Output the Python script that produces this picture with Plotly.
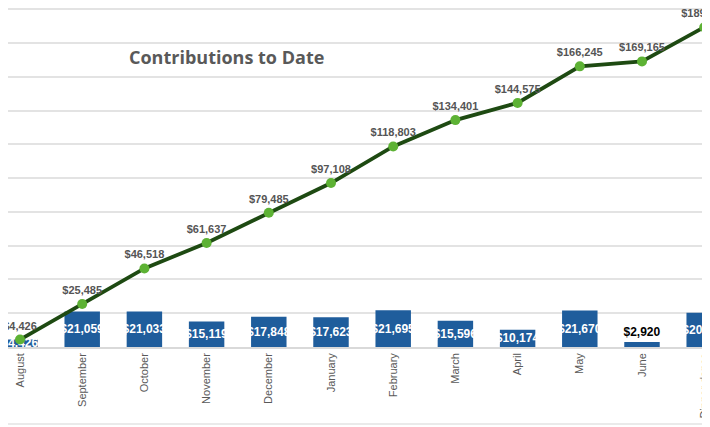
import plotly.graph_objects as go

months = ["August", "September", "October", "November", "December", "January",
          "February", "March", "April", "May", "June", "Dinner dance"]
monthly = [4426, 21059, 21033, 15119, 17848, 17623, 21695, 15596, 10174, 21670, 2920, 20270]
cumulative = [4426, 25485, 46518, 61637, 79485, 97108, 118803, 134401, 144575, 166245, 169165, 189435]

def money(v):
    return "${:,}".format(v)

bar_pos = ["outside" if m == "June" else "inside" for m in months]
bar_font_col = ["#000000" if p == "outside" else "#ffffff" for p in bar_pos]

# The page body has an 8px margin, so the figure sits at (8, 8); it is made a bit
# wider than the window so the right-most marks are cropped by the window only.
W, H = 730, 419
PLOT_H = 339
PX_PER_CAT = 62.2
X0 = -12 / PX_PER_CAT

fig = go.Figure()
fig.add_trace(go.Bar(
    x=months, y=monthly, width=0.57,
    marker=dict(color="#1F5D9C", line=dict(width=0)),
    text=[money(v) for v in monthly],
    texttemplate="<b>%{text}</b>",
    textposition=bar_pos,
    textangle=0,
    insidetextanchor="middle",
    constraintext="none",
    textfont=dict(family="Liberation Sans, Arial", size=12, color=bar_font_col),
    cliponaxis=False,
))
fig.add_trace(go.Scatter(
    x=months, y=cumulative, mode="lines+markers+text",
    line=dict(color="#1E4A12", width=3.8),
    marker=dict(color="#5DB234", size=10, line=dict(width=0)),
    text=["<b>" + money(v) + "</b>" for v in cumulative],
    textposition="top center",
    textfont=dict(family="Liberation Sans, Arial", size=11, color="#555555"),
    cliponaxis=False,
))

fig.add_annotation(
    text="<b>Contributions to Date</b>", xref="paper", yref="paper",
    x=119 / W, y=(PLOT_H - 49) / PLOT_H, xanchor="left", yanchor="middle",
    showarrow=False, font=dict(family="Open Sans, Liberation Sans", size=18, color="#595959"),
)
fig.add_shape(type="line", xref="paper", yref="paper", x0=0, x1=1,
              y0=-(416 - PLOT_H) / PLOT_H, y1=-(416 - PLOT_H) / PLOT_H,
              line=dict(color="#e3e3e3", width=1.5))

fig.update_layout(
    width=W, height=H,
    margin=dict(l=0, r=0, t=0, b=H - PLOT_H, autoexpand=False),
    paper_bgcolor="white", plot_bgcolor="white",
    showlegend=False,
    xaxis=dict(range=[X0, X0 + W / PX_PER_CAT], tickangle=-90, showgrid=False, automargin=False,
               showline=True, linecolor="#d9d9d9", linewidth=1.5,
               ticklabeloverflow="allow",
               tickfont=dict(family="Liberation Sans, Arial", size=11, color="#595959"),
               ticks=""),
    yaxis=dict(range=[0, 200800], dtick=20000, showticklabels=False, automargin=False,
               showgrid=True, gridcolor="#e3e3e3", gridwidth=1.5, zeroline=False),
)
fig.write_html("out.html")
